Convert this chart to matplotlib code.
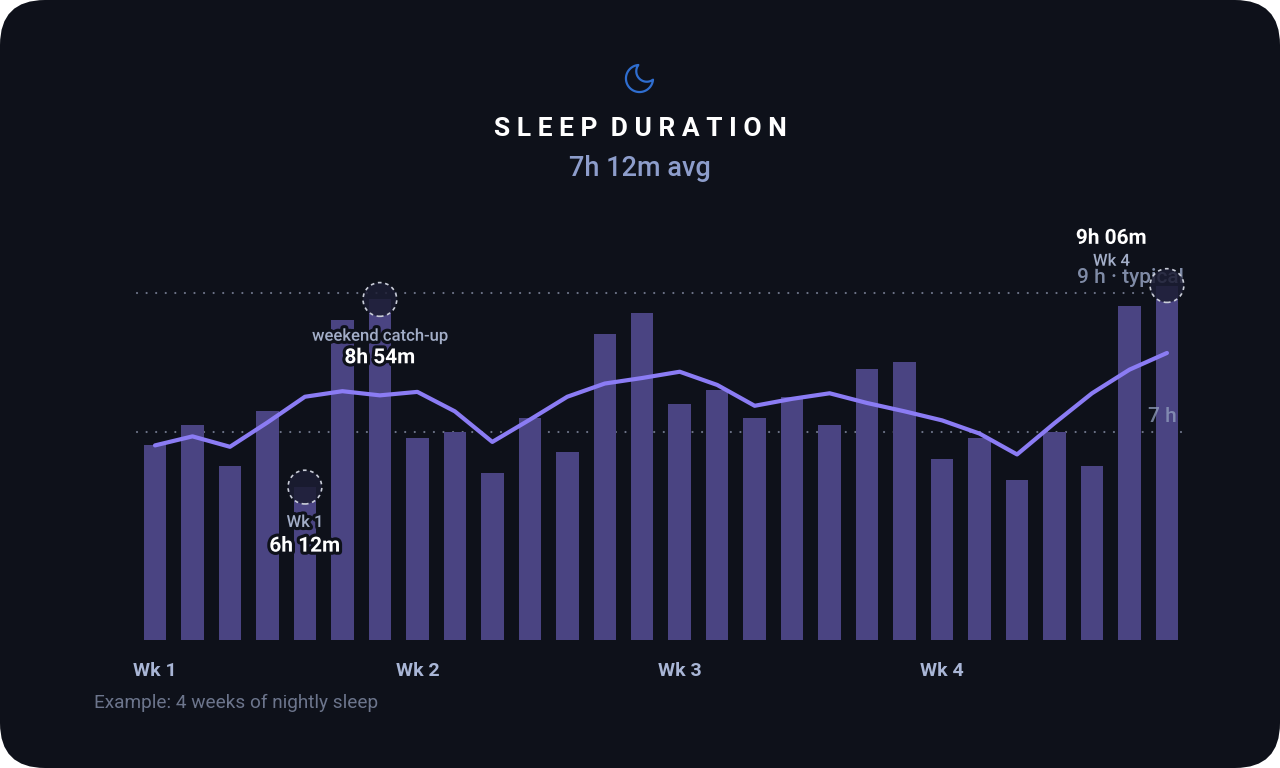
import numpy as np
import matplotlib
matplotlib.use("Agg")
import matplotlib.pyplot as plt
from matplotlib.patches import FancyBboxPatch, Polygon
from matplotlib.transforms import IdentityTransform
import matplotlib.patheffects as pe

# ---------------- data ----------------
sleep_hours = [6.80, 7.10, 6.50, 7.30, 6.20, 8.60, 8.90,
               6.90, 7.00, 6.40, 7.20, 6.70, 8.40, 8.70,
               7.40, 7.60, 7.20, 7.50, 7.10, 7.90, 8.00,
               6.60, 6.90, 6.30, 7.00, 6.50, 8.80, 9.10]
trend_hours = [6.80, 6.93, 6.78, 7.13, 7.50, 7.58, 7.52,
               7.57, 7.29, 6.85, 7.17, 7.50, 7.69, 7.77,
               7.86, 7.67, 7.37, 7.47, 7.55, 7.41, 7.29,
               7.16, 6.97, 6.67, 7.12, 7.55, 7.89, 8.13]
week_labels = ["Wk 1", "Wk 2", "Wk 3", "Wk 4"]
week_ticks = [0, 7, 14, 21]
ref_lines = [7, 9]
ref_labels = ["7 h", "9 h · typical"]
highlight_idx = [4, 6, 27]
highlight_tags = ["Wk 1", "weekend catch-up", "Wk 4"]
highlight_vals = ["6h 12m", "8h 54m", "9h 06m"]

BG = "#0e111a"
BAR = "#4a4482"
LINE = "#8b7cf4"
MUTED = "#94a1c0"
FONT = "Roboto"

plt.rcParams["font.family"] = [FONT, "DejaVu Sans"]

W, H = 1280, 768
fig = plt.figure(figsize=(12.8, 7.68), dpi=100)
fig.patch.set_facecolor("white")
bgpatch = FancyBboxPatch((0, 0), 12.8, 7.68, boxstyle="round,pad=0,rounding_size=0.45",
                         transform=fig.dpi_scale_trans, facecolor=BG, edgecolor="none", zorder=0)
fig.add_artist(bgpatch)

# axes geometry (pixels)
px_per_unit = 37.48
x0_px = 155
left_px = x0_px - 0.65 * px_per_unit
right_px = x0_px + 27.65 * px_per_unit
bottom_px = 640
y4_px = 640
px_per_h = 69.5
top_px = y4_px - 6 * px_per_h  # value 10
ax = fig.add_axes([left_px / W, (H - bottom_px) / H, (right_px - left_px) / W,
                   (bottom_px - top_px) / H])
ax.set_facecolor("none")
ax.set_xlim(-0.65, 27.65)
ax.set_ylim(4, 10)
for s in ax.spines.values():
    s.set_visible(False)
ax.tick_params(length=0)

x = np.arange(len(sleep_hours))
ax.bar(x, sleep_hours, width=0.6, color=BAR, zorder=2)

# reference dotted lines
for rv in ref_lines:
    ax.hlines(rv, -0.48, 27.48, colors="#6d7488", linewidth=1.6,
              linestyles=(0, (0.01, 4.3)), capstyle="round", zorder=1)

ax.plot(x, trend_hours, color=LINE, linewidth=3.0, solid_capstyle="round",
        solid_joinstyle="round", zorder=4)

# week tick labels
ax.set_xticks(week_ticks)
ax.set_xticklabels(week_labels, fontsize=14, fontweight="bold", color="#a9b6d6")
ax.tick_params(axis="x", pad=16)
ax.set_yticks([])

stroke = [pe.withStroke(linewidth=4.5, foreground=BG)]

# reference labels
ax.text(27.45, 9.21, ref_labels[1], ha="right", va="center", fontsize=15,
        fontweight="medium", color=MUTED, alpha=0.85, zorder=5)
ax.text(27.27, 7.22, ref_labels[0], ha="right", va="center", fontsize=15,
        fontweight="medium", color=MUTED, alpha=0.75, zorder=5)

# highlight annotations
offsets = {4: ((0, -25.5), (0, -42.5)), 6: ((0, -26.5), (0, -42)), 27: ((-40, 17.5), (-40, 34))}
for i, tag, val in zip(highlight_idx, highlight_tags, highlight_vals):
    (tx, ty), (vx, vy) = offsets[i]
    ax.annotate(tag, (i, sleep_hours[i]), xytext=(tx, ty), textcoords="offset points",
                ha="center", va="center", fontsize=12, fontweight="medium", color="#a3aec8",
                path_effects=stroke, zorder=6, annotation_clip=False)
    ax.annotate(val, (i, sleep_hours[i]), xytext=(vx, vy), textcoords="offset points",
                ha="center", va="center", fontsize=15, fontweight="bold", color="white",
                path_effects=stroke, zorder=6, annotation_clip=False)

hx = [i for i in highlight_idx]
hy = [sleep_hours[i] for i in highlight_idx]
ax.scatter(hx, hy, s=590, facecolor="#1c1d33", alpha=0.85, edgecolor="none", zorder=7,
           clip_on=False)
ax.scatter(hx, hy, s=590, facecolor="none", edgecolor="#c9cdd8", linewidths=1.2,
           linestyle=(0, (2.2, 2.2)), zorder=8, clip_on=False)

# ---------------- header ----------------
fig.text(0.5, 1 - 129 / H, "S L E E P  D U R A T I O N", ha="center", va="center",
         fontsize=19, fontweight="bold", color="white")
fig.text(0.5, 1 - 169 / H, "7h 12m avg", ha="center", va="center",
         fontsize=19.5, fontweight="medium", color="#8d9dcb")
fig.text(94 / W, 1 - 703 / H, "Example: 4 weeks of nightly sleep", ha="left", va="center",
         fontsize=13.7, color="#6c758c")

# moon icon (feather-style crescent)
def to_px(u, v):
    return 626 + (u - 3) * 1.5, 65 + (v - 3) * 1.5
pts = []
for a in np.linspace(np.radians(5), np.radians(265), 60):
    pts.append((12 + 9.03 * np.cos(a), 12 + 9.03 * np.sin(a)))
for a in np.linspace(np.radians(216.3), np.radians(53.7), 40):
    pts.append((16.85 + 7 * np.cos(a), 7.15 + 7 * np.sin(a)))
disp = [(to_px(u, v)[0], H - to_px(u, v)[1]) for u, v in pts]
moon = Polygon(disp, closed=True, fill=False, edgecolor="#2f6ed0", linewidth=1.6,
               joinstyle="round", transform=IdentityTransform())
fig.add_artist(moon)

fig.savefig("out.png", dpi=100, facecolor=fig.get_facecolor())
